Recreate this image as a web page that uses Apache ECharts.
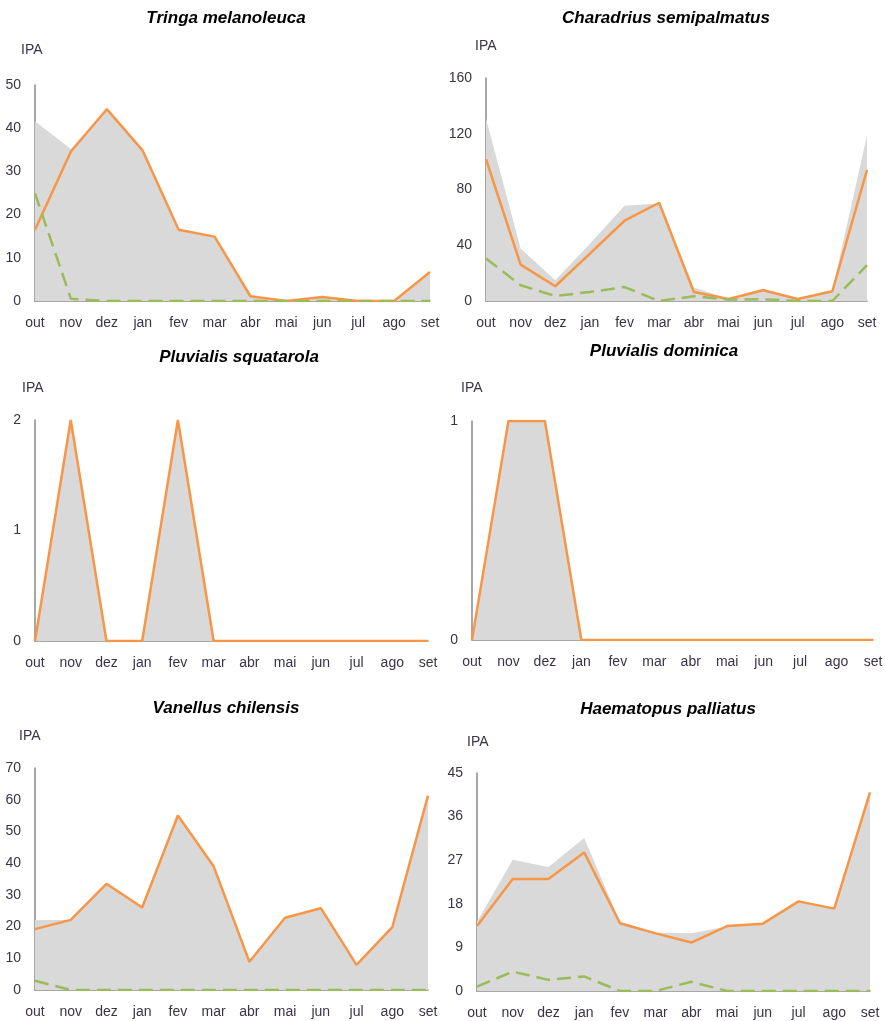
<!DOCTYPE html>
<html>
<head>
<meta charset="utf-8">
<script src="https://cdn.jsdelivr.net/npm/echarts@6/dist/echarts.min.js"></script>
<style>
html,body{margin:0;padding:0;background:#fff;}
#chart{width:886px;height:1021px;}
</style>
</head>
<body>
<div id="chart"></div>
<script>
// ---------- data ----------
const months = ['out','nov','dez','jan','fev','mar','abr','mai','jun','jul','ago','set'];

const titles = ['Tringa melanoleuca','Charadrius semipalmatus','Pluvialis squatarola','Pluvialis dominica','Vanellus chilensis','Haematopus palliatus'];
const yName = 'IPA';

const yMax = [50, 160, 2, 1, 70, 45];
const yStep = [10, 40, 1, 1, 10, 9];

// grey area (total)
const tringaTotal = [41.6, 35.2, 44.4, 34.8, 16.5, 14.9, 1.1, 0, 0.9, 0, 0, 6.7];
const charadriusTotal = [131, 37.7, 14.9, 41, 68.4, 70, 9.6, 1.6, 8.9, 1.4, 7.7, 119];
const squatarolaTotal = [0, 2, 0, 0, 2, 0, 0, 0, 0, 0, 0, 0];
const dominicaTotal = [0, 1, 1, 0, 0, 0, 0, 0, 0, 0, 0, 0];
const vanellusTotal = [22.1, 22.1, 33.5, 26, 55, 39, 8.9, 22.8, 25.8, 7.9, 19.8, 61.3];
const haematopusTotal = [14.3, 27.1, 25.6, 31.6, 14.3, 12.1, 11.9, 13.3, 13.9, 18.5, 17, 41];

// orange solid line
const tringaA = [16.5, 34.6, 44.4, 34.8, 16.5, 14.9, 1.1, 0, 0.9, 0, 0, 6.7];
const charadriusA = [101.7, 26.1, 10.6, 34, 57.6, 70.5, 6.5, 1.4, 7.7, 1.4, 7, 94];
const squatarolaA = [0, 2, 0, 0, 2, 0, 0, 0, 0, 0, 0, 0];
const dominicaA = [0, 1, 1, 0, 0, 0, 0, 0, 0, 0, 0, 0];
const vanellusA = [19.2, 22.1, 33.5, 26, 55, 39, 8.9, 22.8, 25.8, 7.9, 19.8, 61.3];
const haematopusA = [13.4, 23.1, 23.1, 28.6, 14, 11.9, 10, 13.4, 13.9, 18.5, 17, 41];

// green dashed line
const tringaB = [24.9, 0.5, 0, 0, 0, 0, 0, 0, 0, 0, 0, 0];
const charadriusB = [30.5, 11.3, 3.6, 6.5, 10, 0, 3.4, 1, 1.2, 0, 0, 25.7];
const vanellusB = [2.9, 0, 0, 0, 0, 0, 0, 0, 0, 0, 0, 0];
const haematopusB = [0.9, 4, 2.3, 3, 0, 0, 1.9, 0, 0, 0, 0, 0];

const totals = [tringaTotal, charadriusTotal, squatarolaTotal, dominicaTotal, vanellusTotal, haematopusTotal];
const seriesA = [tringaA, charadriusA, squatarolaA, dominicaA, vanellusA, haematopusA];
const seriesB = [tringaB, charadriusB, null, null, vanellusB, haematopusB];

// ---------- layout ----------
const grids = [
  {left: 35, top: 85, width: 395, height: 216},
  {left: 486, top: 78, width: 381, height: 223},
  {left: 35, top: 420, width: 393, height: 221},
  {left: 472, top: 421, width: 401, height: 219},
  {left: 35, top: 768, width: 393, height: 222},
  {left: 477, top: 773, width: 393, height: 218}
];
const titlePos = [[226, 18], [666, 18], [239, 357], [664, 351], [226, 708], [668, 709]];
const ipaPos = [[21, 50], [475, 46], [22, 388], [461, 388], [19, 736], [467, 742]];

const textColor = '#3a3346';
const font = 'Liberation Sans, Arial, sans-serif';

const option = {
  animation: false,
  title: titles.map((t, i) => ({
    text: t,
    left: titlePos[i][0],
    top: titlePos[i][1] - 8,
    textAlign: 'center',
    padding: 0,
    textStyle: {fontFamily: font, fontSize: 17, fontWeight: 'bold', fontStyle: 'italic', color: '#000'}
  })),
  graphic: ipaPos.map(p => ({
    type: 'text',
    left: p[0],
    top: p[1] - 7,
    style: {text: yName, fontFamily: font, fontSize: 14, fill: textColor}
  })),
  grid: grids.map(g => Object.assign({containLabel: false}, g)),
  xAxis: grids.map((g, i) => ({
    type: 'category',
    gridIndex: i,
    data: months,
    boundaryGap: false,
    axisTick: {show: false},
    axisLine: {show: true, lineStyle: {color: '#8a8a8a', width: 1.5}},
    axisLabel: {color: textColor, fontFamily: font, fontSize: 14, margin: 15, interval: 0},
    splitLine: {show: false}
  })),
  yAxis: grids.map((g, i) => ({
    type: 'value',
    gridIndex: i,
    min: 0,
    max: yMax[i],
    interval: yStep[i],
    axisTick: {show: false},
    axisLine: {show: true, lineStyle: {color: '#8a8a8a', width: 1.5}},
    axisLabel: {color: textColor, fontFamily: font, fontSize: 14, margin: 14},
    splitLine: {show: false}
  })),
  series: []
};

for (let i = 0; i < 6; i++) {
  option.series.push({
    type: 'line', xAxisIndex: i, yAxisIndex: i, data: totals[i],
    symbol: 'none', lineStyle: {width: 0, color: '#d9d9d9'},
    areaStyle: {color: '#d9d9d9', opacity: 1}, z: 1
  });
  option.series.push({
    type: 'line', xAxisIndex: i, yAxisIndex: i, data: seriesA[i],
    symbol: 'none', lineStyle: {width: 2.5, color: '#f79646'}, z: 3
  });
  if (seriesB[i]) {
    option.series.push({
      type: 'line', xAxisIndex: i, yAxisIndex: i, data: seriesB[i],
      symbol: 'none', lineStyle: {width: 2.5, color: '#9bbb59', type: [14, 7]}, z: 4
    });
  }
}

const chart = echarts.init(document.getElementById('chart'), null, {renderer: 'canvas'});
chart.setOption(option);
</script>
</body>
</html>
